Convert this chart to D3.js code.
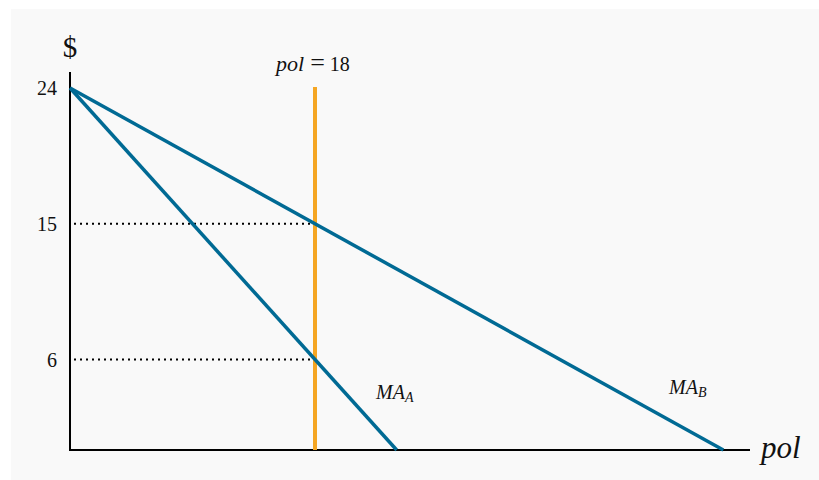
<!DOCTYPE html>
<html>
<head>
<meta charset="utf-8">
<script src="https://cdn.jsdelivr.net/npm/d3@7"></script>
<style>
  body { margin: 0; background: #ffffff; }
  text { font-family: "Liberation Serif", "DejaVu Serif", serif; fill: #111; }
</style>
</head>
<body>
<div id="chart"></div>
<script>
// data: marginal abatement curves, $ vs pol
var curveNames = ["MA_A", "MA_B"]
var polA = [0, 24], costA = [24, 0]
var polB = [0, 48], costB = [24, 0]
var policyPol = 18
var yTicks = [6, 15, 24]

var width = 819,
    height = 480

var svg = d3.select("#chart")
  .append("svg")
    .attr("width", width)
    .attr("height", height)

// light panel behind the graph
svg.append("rect")
  .attr("x", 11).attr("y", 9)
  .attr("width", 808).attr("height", 471)
  .attr("fill", "#f9f9f9")

// scales: pol 0 at x=70, 18 at x=315 ; $ 0 at y=450, 24 at y=88
var x = d3.scaleLinear().domain([0, 18]).range([70, 315])
var y = d3.scaleLinear().domain([0, 24]).range([450, 88])

// axes
svg.append("line")
  .attr("x1", x(0)).attr("x2", x(0))
  .attr("y1", 72).attr("y2", y(0))
  .attr("stroke", "#000").attr("stroke-width", 2)
svg.append("line")
  .attr("x1", x(0) - 1).attr("x2", 750)
  .attr("y1", y(0)).attr("y2", y(0))
  .attr("stroke", "#000").attr("stroke-width", 2)

// tick labels
svg.selectAll(".ytick")
  .data(yTicks)
  .enter()
  .append("text")
    .attr("x", 57)
    .attr("y", function(d) { return y(d) + 7 })
    .attr("text-anchor", "end")
    .style("font-size", "20px")
    .text(function(d) { return d })

// dotted guides at the policy level
var pA = d3.scaleLinear().domain(polA).range(costA)
var pB = d3.scaleLinear().domain(polB).range(costB)
svg.selectAll(".guide")
  .data([pA(policyPol), pB(policyPol)])
  .enter()
  .append("line")
    .attr("x1", x(0) + 4).attr("x2", x(policyPol))
    .attr("y1", function(d) { return y(d) })
    .attr("y2", function(d) { return y(d) })
    .attr("stroke", "#000")
    .attr("stroke-width", 2)
    .attr("stroke-dasharray", "2,4")

// policy line
svg.append("line")
  .attr("x1", x(policyPol)).attr("x2", x(policyPol))
  .attr("y1", y(24) - 1).attr("y2", y(0))
  .attr("stroke", "#f5a623")
  .attr("stroke-width", 4)

// MA curves
var line = d3.line()
  .x(function(d) { return x(d[0]) })
  .y(function(d) { return y(d[1]) })
var curves = [d3.zip(polA, costA), d3.zip(polB, costB)]
svg.selectAll(".curve")
  .data(curves)
  .enter()
  .append("path")
    .attr("d", line)
    .attr("fill", "none")
    .attr("stroke", "#006a94")
    .attr("stroke-width", 3.5)

// labels
svg.append("text")
  .attr("x", 70).attr("y", 57)
  .attr("text-anchor", "middle")
  .style("font-size", "29px")
  .text("$")

var t = svg.append("text")
  .attr("x", x(policyPol) - 39).attr("y", 71)
  .style("font-size", "20px")
t.append("tspan").style("font-style", "italic")
  .style("font-size", "22px").text("pol")
t.append("tspan").attr("dx", 6).style("font-size", "26px").text("=")
t.append("tspan").attr("dx", 5).text("18")

function maLabel(px, py, sub) {
  var l = svg.append("text")
    .attr("x", px).attr("y", py)
    .style("font-size", "20px")
    .style("font-style", "italic")
  l.append("tspan").text("MA")
  l.append("tspan").attr("dy", 3).style("font-size", "14px").text(sub)
}
maLabel(376, 399, "A")
maLabel(669, 394, "B")

svg.append("text")
  .attr("x", 761).attr("y", 458)
  .style("font-size", "31px")
  .style("font-style", "italic")
  .text("pol")
</script>
</body>
</html>
